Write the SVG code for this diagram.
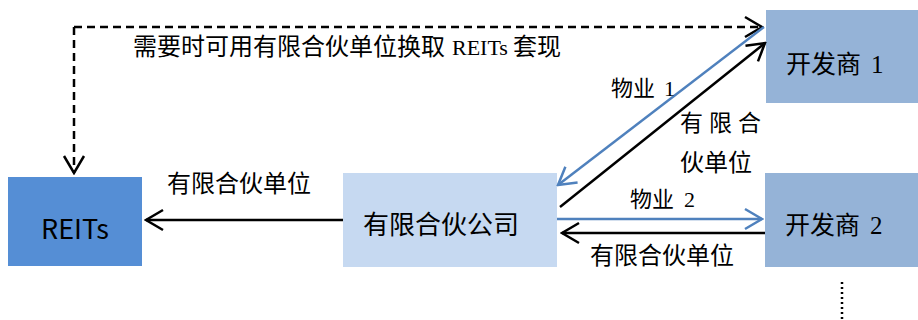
<svg xmlns="http://www.w3.org/2000/svg" width="918" height="320" viewBox="0 0 918 320">
<style>
.t{font-family:"Noto Sans CJK SC","Microsoft YaHei",sans-serif;fill:#000}
.s{font-family:"Liberation Serif","Times New Roman",serif;fill:#000}
.blk{stroke:#000;stroke-width:2.5;fill:none}
.blu{stroke:#4F81BD;stroke-width:2.5;fill:none}
</style>
<defs>
<marker id="ak" markerUnits="userSpaceOnUse" viewBox="-20 -12 22 24" refX="0" refY="0" markerWidth="22" markerHeight="24" orient="auto">
<path d="M-17,-10 L0,0 L-17,10" fill="none" stroke="#000" stroke-width="2.5"/>
</marker>
<marker id="ab" markerUnits="userSpaceOnUse" viewBox="-20 -12 22 24" refX="0" refY="0" markerWidth="22" markerHeight="24" orient="auto">
<path d="M-17,-10 L0,0 L-17,10" fill="none" stroke="#4F81BD" stroke-width="2.5"/>
</marker>
</defs>
<g id="reits">
<rect x="8" y="177" width="134" height="89" fill="#558ED5"/>
<text class="t" x="75" y="239" font-size="27" text-anchor="middle">REITs</text>
</g>
<g id="lp">
<rect x="343" y="173" width="214" height="94" fill="#C6D9F1"/>
<text class="t" x="363" y="234" font-size="26">有限合伙公司</text>
</g>
<g id="dev1">
<rect x="766" y="10" width="152" height="93" fill="#95B3D7"/>
<text x="786" y="73" font-size="25"><tspan class="t">开发商</tspan><tspan class="s" x="871">1</tspan></text>
</g>
<g id="dev2">
<rect x="765" y="173" width="153" height="94" fill="#95B3D7"/>
<text x="785" y="234" font-size="25"><tspan class="t">开发商</tspan><tspan class="s" x="870">2</tspan></text>
</g>
<g id="connectors">
<path d="M74,27 L762,27" class="blk" stroke-width="2" stroke-dasharray="8,5" marker-end="url(#ak)"/>
<path d="M74,27 L74,173" class="blk" stroke-width="2" stroke-dasharray="8,5" marker-end="url(#ak)"/>
<path d="M764,27 L558,185" class="blu" marker-end="url(#ab)"/>
<path d="M560,207 L765,43" class="blk" marker-end="url(#ak)"/>
<path d="M557,219 L762,219" class="blu" marker-end="url(#ab)"/>
<path d="M765,233 L562,233" class="blk" marker-end="url(#ak)"/>
<path d="M343,220 L146,220" class="blk" marker-end="url(#ak)"/>
<path d="M842,282 L842,320" stroke="#000" stroke-width="2.5" stroke-dasharray="2,3" fill="none"/>
</g>
<g id="labels">
<text x="133" y="55" font-size="24"><tspan class="t">需要时可用有限合伙单位换取</tspan><tspan class="s" x="452" font-size="22">REITs</tspan><tspan class="t" x="513">套现</tspan></text>
<text class="t" x="167" y="192" font-size="24">有限合伙单位</text>
<text x="611" y="96" font-size="22"><tspan class="t">物业</tspan><tspan class="s" x="664">1</tspan></text>
<text class="t" y="131" font-size="23"><tspan x="680">有</tspan><tspan x="709">限</tspan><tspan x="738">合</tspan></text>
<text class="t" x="680" y="171" font-size="24">伙单位</text>
<text x="630" y="207" font-size="22"><tspan class="t">物业</tspan><tspan class="s" x="684">2</tspan></text>
<text class="t" x="590" y="264" font-size="24">有限合伙单位</text>
</g>
</svg>
